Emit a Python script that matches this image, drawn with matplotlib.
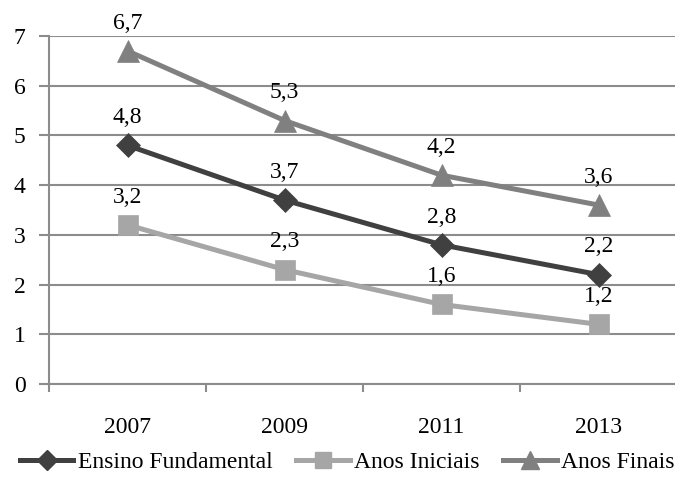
import matplotlib
matplotlib.use("Agg")
import matplotlib.pyplot as plt
from matplotlib.lines import Line2D

years = ["2007", "2009", "2011", "2013"]
ensino_fundamental = [4.8, 3.7, 2.8, 2.2]
anos_iniciais = [3.2, 2.3, 1.6, 1.2]
anos_finais = [6.7, 5.3, 4.2, 3.6]

series = [
    ("Ensino Fundamental", ensino_fundamental, "#404040", "D", 12.5),
    ("Anos Iniciais", anos_iniciais, "#a6a6a6", "s", 14.5),
    ("Anos Finais", anos_finais, "#808080", "^", 15.5),
]

plt.rcParams["font.family"] = ["Liberation Serif", "DejaVu Serif"]
FS = 17

fig = plt.figure(figsize=(6.75, 4.86), dpi=100)
ax = fig.add_axes([49 / 675, (486 - 384) / 486, 628 / 675, 348 / 486])

x = list(range(len(years)))
grid_color = "#8c8c8c"

for name, vals, color, marker, ms in series:
    ax.plot(x, vals, color=color, lw=3.6, marker=marker, ms=ms,
            markeredgecolor=color, markeredgewidth=0.5, zorder=3,
            solid_capstyle="round")
    for xi, v in zip(x, vals):
        ax.annotate(f"{v:.1f}".replace(".", ","), (xi, v), xytext=(0, 20),
                    textcoords="offset points", ha="center", va="center",
                    fontsize=FS, color="black", zorder=4)

ax.set_xlim(-0.5, 3.5)
ax.set_ylim(0, 7)
ax.set_yticks(range(0, 8))
ax.set_yticklabels([str(i) for i in range(0, 8)], fontsize=FS)
ax.set_xticks(x)
ax.set_xticklabels(years, fontsize=FS)
ax.set_xticks([-0.5, 0.5, 1.5, 2.5, 3.5], minor=True)
ax.tick_params(axis="x", which="major", length=0, pad=24)
ax.tick_params(axis="x", which="minor", length=6, width=1.5, color=grid_color)
ax.tick_params(axis="y", length=7, width=1.5, color=grid_color, pad=10)

ax.grid(axis="y", color=grid_color, lw=1.5, zorder=0)
for side in ["top", "right"]:
    ax.spines[side].set_visible(False)
ax.spines["left"].set_color(grid_color)
ax.spines["left"].set_linewidth(1.5)
ax.spines["bottom"].set_color(grid_color)
ax.spines["bottom"].set_linewidth(1.5)

handles = [Line2D([0], [0], color=c, lw=3.6, marker=m, ms=ms * 0.8, markeredgecolor=c)
           for _, _, c, m, ms in series]
fig.legend(handles, [s[0] for s in series], loc="center",
           bbox_to_anchor=(0.5 + 10 / 675, 1 - 462 / 486),
           ncol=3, frameon=False, fontsize=FS, handlelength=2.25, handletextpad=0.2,
           columnspacing=1.0)

fig.savefig("out.png", dpi=100)
